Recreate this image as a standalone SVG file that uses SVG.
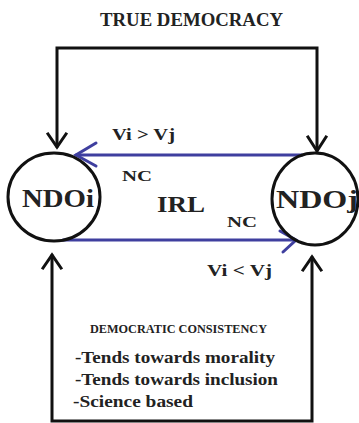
<svg xmlns="http://www.w3.org/2000/svg" width="359" height="423" viewBox="0 0 359 423">
<style>
.t{font-family:"Liberation Serif","Times New Roman",serif;font-weight:bold;fill:#222}
.k{fill:none;stroke:#111;stroke-width:3;stroke-linecap:square;stroke-linejoin:miter}
.b{fill:none;stroke:#3f3f9f;stroke-width:3;stroke-linecap:round}
.n{fill:none;stroke:#111;stroke-width:3}
</style>
<rect width="359" height="423" fill="#fff"/>
<text class="t" x="100" y="26" font-size="18" textLength="183" lengthAdjust="spacingAndGlyphs">TRUE DEMOCRACY</text>
<g id="connectors">
  <polyline class="k" points="57,146 57,48 317,48 317,150"/>
  <polyline class="k" points="48,134 57,147 66,134"/>
  <polyline class="k" points="308,137 317,151 326,137"/>
  <polyline class="k" points="52,256 52,421 312,421 312,258"/>
  <polyline class="k" points="43,268 52,255 61,268"/>
  <polyline class="k" points="303,270 312,257 321,270"/>
  <line class="b" x1="302" y1="155" x2="76" y2="155"/>
  <polyline class="b" points="96,143 76,155 96,166"/>
  <line class="b" x1="63" y1="240" x2="295" y2="240"/>
  <polyline class="b" points="280,231 296,240 283,252"/>
</g>
<g id="NDOi">
  <ellipse class="n" cx="54" cy="197" rx="46" ry="44"/>
  <text class="t" x="22" y="207" font-size="26" textLength="72" lengthAdjust="spacingAndGlyphs">NDOi</text>
</g>
<g id="NDOj">
  <ellipse class="n" cx="315" cy="199" rx="43" ry="46"/>
  <text class="t" x="276" y="208" font-size="26" textLength="82" lengthAdjust="spacingAndGlyphs">NDOj</text>
</g>
<text class="t" x="112" y="140" font-size="17" textLength="63" lengthAdjust="spacingAndGlyphs">Vi &gt; Vj</text>
<text class="t" x="122" y="181" font-size="15" textLength="30" lengthAdjust="spacingAndGlyphs">NC</text>
<text class="t" x="157" y="212" font-size="24" textLength="48" lengthAdjust="spacingAndGlyphs">IRL</text>
<text class="t" x="227" y="227" font-size="15" textLength="30" lengthAdjust="spacingAndGlyphs">NC</text>
<text class="t" x="207" y="276" font-size="17" textLength="65" lengthAdjust="spacingAndGlyphs">Vi &lt; Vj</text>
<text class="t" x="90" y="333" font-size="12" textLength="177" lengthAdjust="spacingAndGlyphs">DEMOCRATIC CONSISTENCY</text>
<text class="t" x="75" y="363" font-size="17" textLength="200" lengthAdjust="spacingAndGlyphs">-Tends towards morality</text>
<text class="t" x="75" y="385" font-size="17" textLength="203" lengthAdjust="spacingAndGlyphs">-Tends towards inclusion</text>
<text class="t" x="73" y="407" font-size="17" textLength="120" lengthAdjust="spacingAndGlyphs">-Science based</text>
</svg>
